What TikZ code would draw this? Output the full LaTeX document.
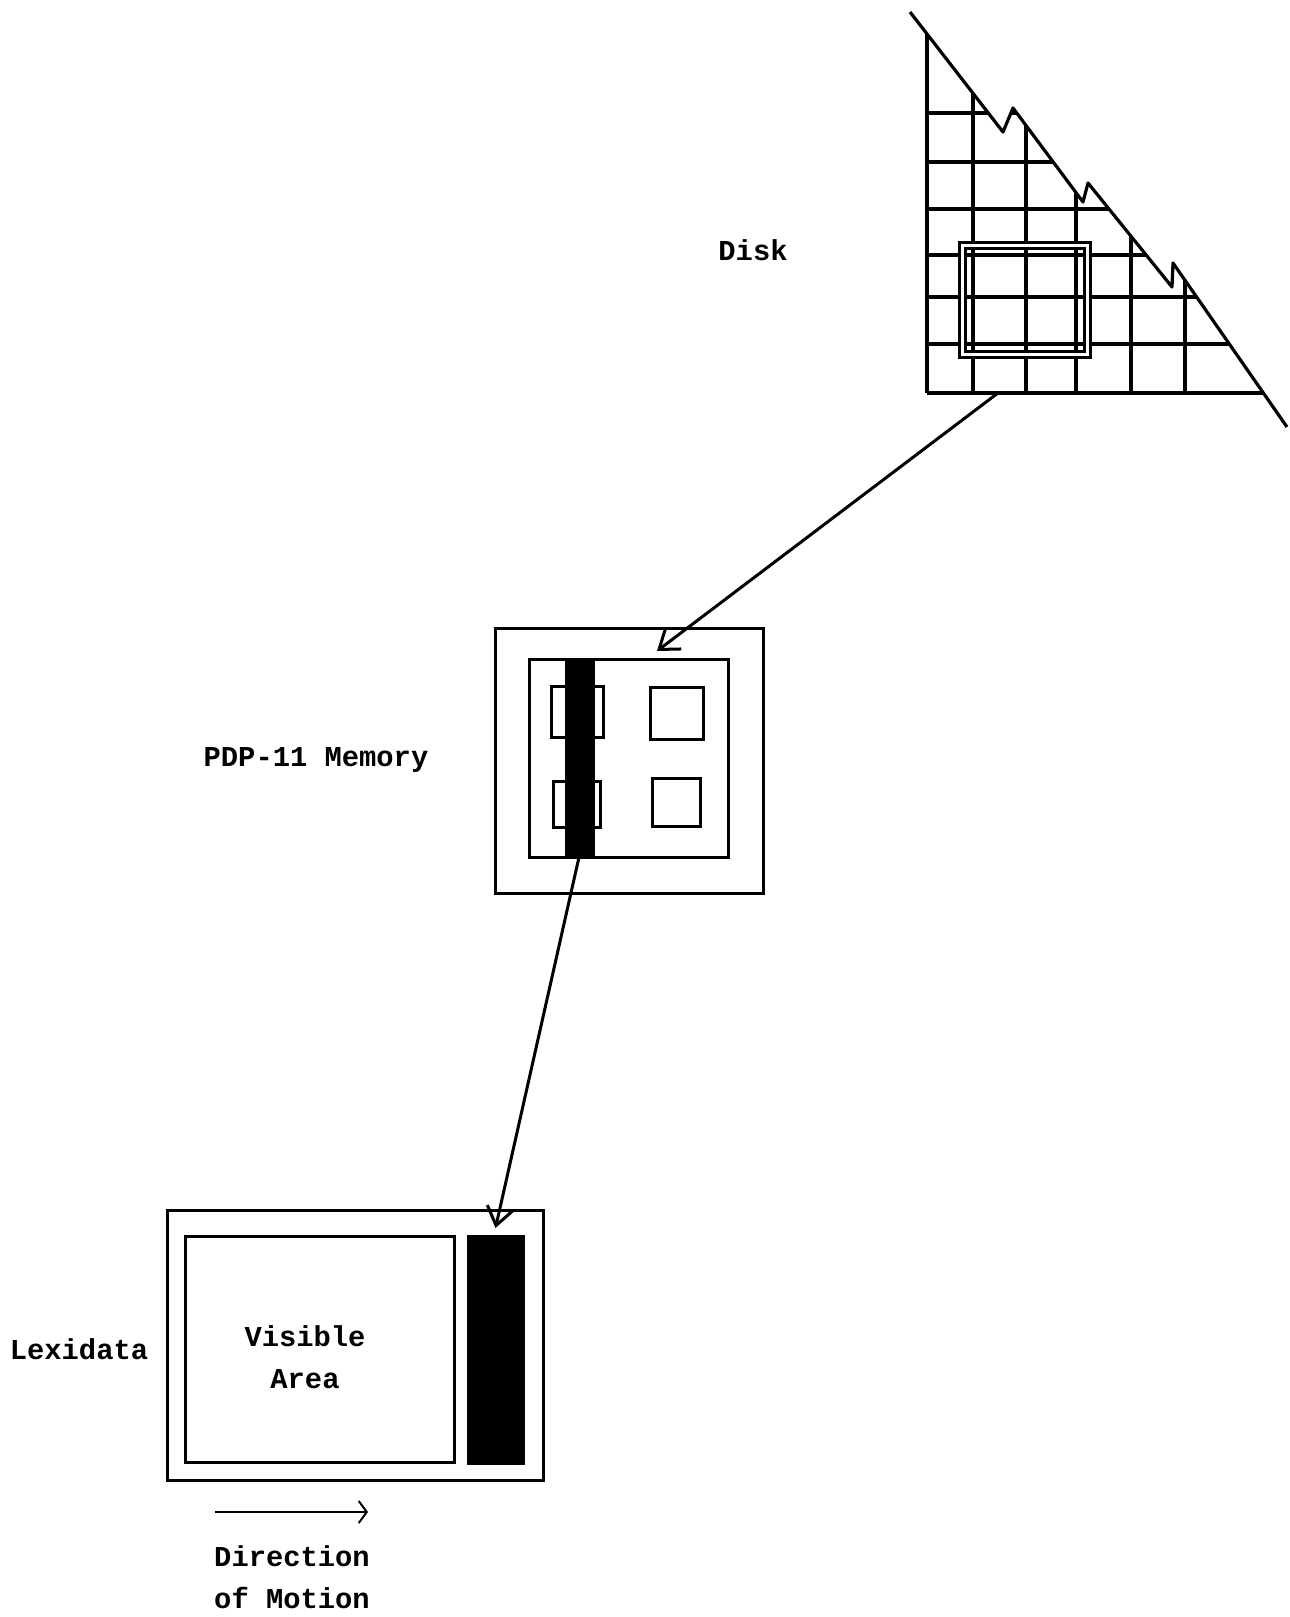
\documentclass[tikz,border=0pt]{standalone}
\usepackage{fontspec}
\setmonofont{Liberation Mono}
\usetikzlibrary{arrows.meta, positioning}

\tikzset{
  box/.style={draw, line width=1.5pt, inner sep=0pt, outer sep=0pt},
  solidbar/.style={box, fill=black},
  gridline/.style={line width=1.6pt, line join=round},
  labeltext/.style={font=\ttfamily\bfseries\fontsize{14.4}{21}\selectfont, align=center},
  barb/.style={-{Straight Barb[length=9pt, width=13pt]}, line width=1.5pt}
}

\begin{document}
\begin{tikzpicture}[x=0.5pt, y=-0.5pt]
    \useasboundingbox (0,0) rectangle (1290,1617);

    % Disk grid, cut by the torn edge
    \begin{scope}
        \clip (920,25) -- (1003,132) -- (1013,108) -- (1083,202) -- (1088,183) -- (1172,287) -- (1173,263) -- (1268,400) -- (920,400) -- cycle;
        \foreach \gx in {927,973,1026,1076,1131,1185}
            \draw[gridline] (\gx,0) -- (\gx,393);
        \foreach \gy in {113,162,209,255,297,344,393}
            \draw[gridline] (927,\gy) -- (1290,\gy);
    \end{scope}
    \draw[gridline] (910,12) -- (1003,132) -- (1013,108) -- (1083,202) -- (1088,183) -- (1172,287) -- (1173,263) -- (1287,427);

    % Window on the disk
    \node[box, double, double distance=1.5pt, minimum width=62.5pt, minimum height=54.5pt] (window) at (1024.5,300) {};
    \node[labeltext] (disklabel) at (753,250) {Disk};

    % PDP-11 memory
    \node[box, minimum width=134pt, minimum height=132.5pt] (memory) at (629,760.5) {};
    \node[box, minimum width=99.5pt, minimum height=99pt] (membuf) at (628.5,758) {};
    \node[box, minimum width=26pt, minimum height=25.5pt] (blocka) at (577,711.5) {};
    \node[box, minimum width=23.5pt, minimum height=23pt] (blockb) at (576.5,804) {};
    \node[box, minimum width=26.5pt, minimum height=26pt] (blockc) at (676.5,713) {};
    \node[box, minimum width=24pt, minimum height=24pt] (blockd) at (676,802) {};
    \node[solidbar, minimum width=13.5pt, minimum height=98pt] (mbar) at (579.5,757) {};
    \node[labeltext] (memlabel) at (316,760) {PDP-11 Memory};

    % Lexidata
    \node[box, minimum width=188pt, minimum height=135pt] (lexidata) at (355,1345) {};
    \node[box, minimum width=134.5pt, minimum height=113pt, labeltext] (visible) at (319.5,1349) {};
    \node[labeltext] (vislabel) at (305,1357) {Visible\\Area};
    \node[solidbar, minimum width=27.5pt, minimum height=113.5pt] (lbar) at (495.5,1349.5) {};
    \node[labeltext] (lexlabel) at (79,1349) {Lexidata};

    % Transfers
    \coordinate (diskbase) at (998,393);
    \coordinate (memtop) at (657,651);
    \draw[barb] (diskbase) -- (memtop);
    \draw[barb] (mbar.south) -- ([yshift=4pt]lbar.north);

    % Direction of motion
    \coordinate (dirstart) at (215,1512);
    \coordinate (dirend) at (368,1512);
    \draw[-{Straight Barb[length=4pt, width=11pt]}, line width=1pt] (dirstart) -- (dirend);
    \node[labeltext] (dirlabel) at (292,1577) {Direction\\of Motion};
\end{tikzpicture}
\end{document}
